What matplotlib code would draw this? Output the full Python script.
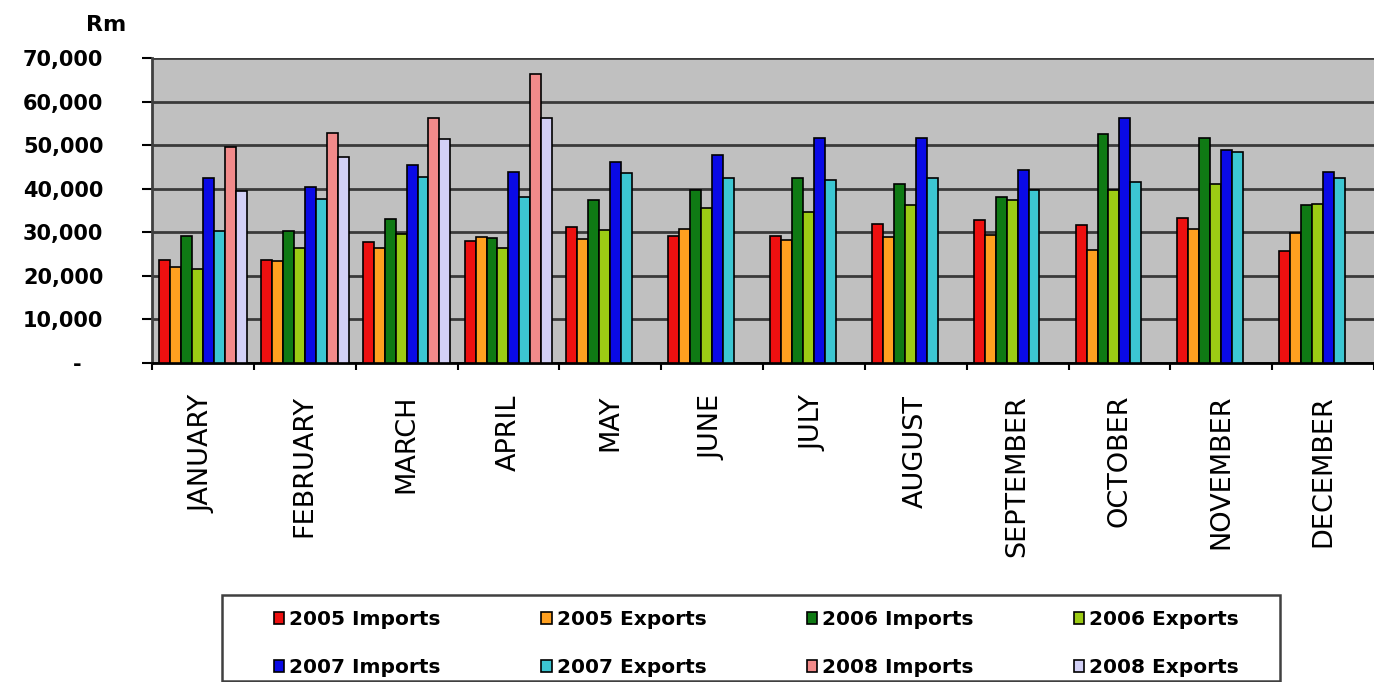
import numpy as np
import matplotlib.pyplot as plt
from matplotlib.patches import Rectangle

months = ['JANUARY', 'FEBRUARY', 'MARCH', 'APRIL', 'MAY', 'JUNE', 'JULY',
          'AUGUST', 'SEPTEMBER', 'OCTOBER', 'NOVEMBER', 'DECEMBER']

# monthly trade values, Rm
imp05 = [23750, 23750, 27800, 27900, 31200, 29100, 29100, 32000, 32900, 31600, 33300, 25600]
exp05 = [22100, 23300, 26500, 28900, 28400, 30700, 28200, 28900, 29300, 26000, 30700, 29900]
imp06 = [29100, 30200, 33000, 28600, 37500, 39800, 42500, 41100, 38100, 52600, 51700, 36200]
exp06 = [21600, 26400, 29500, 26400, 30500, 35600, 34600, 36200, 37500, 39800, 41100, 36600]
imp07 = [42500, 40400, 45400, 43800, 46200, 47700, 51700, 51700, 44400, 56200, 48800, 43800]
exp07 = [30400, 37700, 42600, 38100, 43500, 42500, 42100, 42500, 39800, 41500, 48400, 42500]
# 2008 only has Jan - Apr so far
imp08 = [49600, 52700, 56200, 66400]
exp08 = [39500, 47300, 51300, 56200]

series = [imp05, exp05, imp06, exp06, imp07, exp07, imp08, exp08]
names = ['2005 Imports', '2005 Exports', '2006 Imports', '2006 Exports',
         '2007 Imports', '2007 Exports', '2008 Imports', '2008 Exports']
colors = ['#EE1010', '#FFA020', '#0F7A14', '#9CCB14',
          '#0A0AE6', '#3CC6D2', '#F28A8A', '#D2D0F6']

fig = plt.figure(figsize=(13.74, 6.82), dpi=100)
ax = fig.add_axes([152/1374, 1-363/682, 1-152/1374, 305/682])
ax.set_facecolor('#C0C0C0')

x = np.arange(len(months))
w = 0.86 / 8
bars = []
for i, vals in enumerate(series):
    b = ax.bar(x[:len(vals)] + (i - 3.5) * w, vals, width=w, color=colors[i],
               edgecolor='black', linewidth=1.2, label=names[i], zorder=3)
    bars.append(b)

ax.set_xlim(-0.5, 11.5)
ax.set_ylim(0, 70000)

yt = np.arange(0, 70001, 10000)
ax.set_yticks(yt, ['-   '] + ['{:,}'.format(v) for v in yt[1:]])
ax.yaxis.grid(True, color='#3A3A3A', linewidth=2, zorder=1)
ax.set_axisbelow(True)
for lab in ax.get_yticklabels():
    lab.set_fontweight('bold')
ax.tick_params(axis='y', length=7, width=1.5, pad=28, labelsize=15)

# ticks between months, names centred under each group
ax.set_xticks(np.arange(-0.5, 12, 1), [''] * 13)
ax.set_xticks(x, months, minor=True, rotation=90)
ax.tick_params(axis='x', which='major', length=5, width=1.5)
ax.tick_params(axis='x', which='minor', length=0, pad=23, labelsize=19.5)

for s in ['top', 'right']:
    ax.spines[s].set_visible(False)
ax.spines['left'].set_color('#404040')
ax.spines['left'].set_linewidth(2)
ax.spines['bottom'].set_linewidth(2)

fig.text(106/1374, 1-25/682, 'Rm', fontsize=16, fontweight='bold', ha='center', va='center')

# legend box
fig.add_artist(Rectangle((222/1374, 1/682), 1058/1374, 86/682, transform=fig.transFigure,
                         facecolor='white', edgecolor='#404040', linewidth=1.8, zorder=0))
order = [0, 4, 1, 5, 2, 6, 3, 7]
fig.legend([bars[k] for k in order], [names[k] for k in order], ncol=4,
           loc='upper left', bbox_to_anchor=(254/1374, 1-590/682), frameon=False,
           prop={'weight': 'bold', 'size': 14.5}, handlelength=0.5, handleheight=0.5,
           handletextpad=0.25, columnspacing=5.0, labelspacing=1.45, borderpad=0.5)

plt.savefig('out.png', dpi=100)
